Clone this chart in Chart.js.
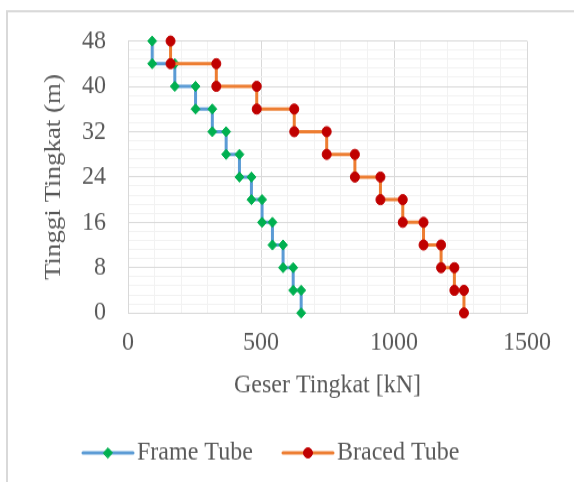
<!DOCTYPE html>
<html>
<head>
<meta charset="utf-8">
<script src="https://cdn.jsdelivr.net/npm/chart.js@4/dist/chart.umd.min.js"></script>
<style>
  html, body { margin: 0; padding: 0; background: #ffffff; }
</style>
</head>
<body>
<!-- drawn at 430px high and stretched to 482px -->
<canvas id="shearChart" width="574" height="430" style="display:block;width:574px;height:482px"></canvas>
<script>
// floor elevations (m), top to bottom
const levels = [48, 44, 40, 36, 32, 28, 24, 20, 16, 12, 8, 4, 0];
// story shear (kN) for each story, top story first
const frameTube = [91, 176, 254, 317, 369, 419, 464, 504, 543, 583, 621, 651];
const bracedTube = [160, 332, 484, 625, 747, 853, 949, 1033, 1111, 1177, 1227, 1263];
const xTicks = [0, 500, 1000, 1500];
const yTicks = [0, 8, 16, 24, 32, 40, 48];

// each story shear is constant between its top and bottom floor
function stepPoints(shear) {
    const pts = [];
    for (let i = 0; i < shear.length; i++) {
        pts.push({ x: shear[i], y: levels[i] });
        pts.push({ x: shear[i], y: levels[i + 1] });
    }
    return pts;
}

const textColor = '#595959';
const majorGrid = '#d9d9d9';
const minorGrid = '#f2f2f2';

Chart.defaults.font.family = '"Liberation Serif", "Times New Roman", serif';
Chart.defaults.font.size = 24;
Chart.defaults.color = textColor;

// outer frame of the figure
const framePlugin = {
    id: 'frame',
    beforeDraw(chart) {
        const c = chart.ctx;
        c.save();
        c.strokeStyle = majorGrid;
        c.lineWidth = 2;
        c.beginPath();
        c.moveTo(7, 700);
        c.lineTo(7, 10);
        c.lineTo(700, 10);
        c.stroke();
        c.restore();
    }
};

// legend with line sample and marker in the middle
const legendPlugin = {
    id: 'lineLegend',
    afterDraw(chart) {
        const c = chart.ctx;
        const y = 404;
        const items = [[83, 0], [283, 1]];
        c.save();
        items.forEach(([x0, idx]) => {
            const ds = chart.data.datasets[idx];
            c.strokeStyle = ds.borderColor;
            c.lineWidth = ds.borderWidth;
            c.lineCap = 'round';
            c.beginPath();
            c.moveTo(x0, y);
            c.lineTo(x0 + 50, y);
            c.stroke();
            c.fillStyle = ds.pointBackgroundColor;
            c.strokeStyle = ds.pointBorderColor;
            c.lineWidth = 1;
            Chart.helpers.drawPoint(c, {
                pointStyle: ds.pointStyle, radius: ds.pointRadius, rotation: 0, borderWidth: 1
            }, x0 + 25, y);
            c.fillStyle = textColor;
            c.font = '24px "Liberation Serif", "Times New Roman", serif';
            c.textAlign = 'left';
            c.textBaseline = 'middle';
            c.fillText(ds.label, x0 + 54, y);
        });
        c.restore();
    }
};

new Chart(document.getElementById('shearChart'), {
    type: 'scatter',
    data: {
        datasets: [{
            label: 'Frame Tube',
            data: stepPoints(frameTube),
            showLine: true,
            borderColor: '#5b9bd5',
            borderWidth: 3,
            pointStyle: 'rectRot',
            pointRadius: 4.5,
            pointBackgroundColor: '#00b050',
            pointBorderColor: '#00b050',
            pointBorderWidth: 1,
            tension: 0,
            clip: false,
            order: 1
        }, {
            label: 'Braced Tube',
            data: stepPoints(bracedTube),
            showLine: true,
            borderColor: '#ed7d31',
            borderWidth: 3,
            pointStyle: 'circle',
            pointRadius: 4.5,
            pointBackgroundColor: '#c00000',
            pointBorderColor: '#c00000',
            pointBorderWidth: 1,
            tension: 0,
            clip: false,
            order: 0
        }]
    },
    options: {
        responsive: false,
        animation: false,
        layout: { padding: { left: 7, top: 36.6, right: 47, bottom: 67.8 } },
        plugins: {
            legend: { display: false },
            tooltip: { enabled: false }
        },
        scales: {
            x: {
                type: 'linear',
                min: 0,
                max: 1500,
                afterFit(scale) { scale.height = 83; },
                ticks: {
                    stepSize: 100,
                    autoSkip: false,
                    maxRotation: 0,
                    padding: 12.4,
                    callback: v => xTicks.includes(v) ? String(v) : ''
                },
                grid: {
                    drawTicks: false,
                    color: ctx => ctx.tick && ctx.tick.value % 500 === 0 ? majorGrid : minorGrid
                },
                border: { color: majorGrid },
                title: {
                    display: true,
                    text: 'Geser Tingkat [kN]',
                    padding: { top: 4, bottom: 4 }
                }
            },
            y: {
                type: 'linear',
                min: 0,
                max: 48,
                afterFit(scale) { scale.width = 121; },
                ticks: {
                    stepSize: 1.6,
                    autoSkip: false,
                    padding: 22,
                    callback: v => {
                        const r = Math.round(v * 10) / 10;
                        return yTicks.includes(r) ? String(r) : '';
                    }
                },
                grid: {
                    drawTicks: false,
                    color: ctx => {
                        if (!ctx.tick) return minorGrid;
                        const q = ctx.tick.value / 8;
                        return Math.abs(q - Math.round(q)) < 1e-6 ? majorGrid : minorGrid;
                    }
                },
                border: { color: majorGrid },
                title: {
                    display: true,
                    text: 'Tinggi Tingkat (m)',
                    padding: { top: 32.6, bottom: 0 }
                }
            }
        }
    },
    plugins: [framePlugin, legendPlugin]
});
</script>
</body>
</html>
